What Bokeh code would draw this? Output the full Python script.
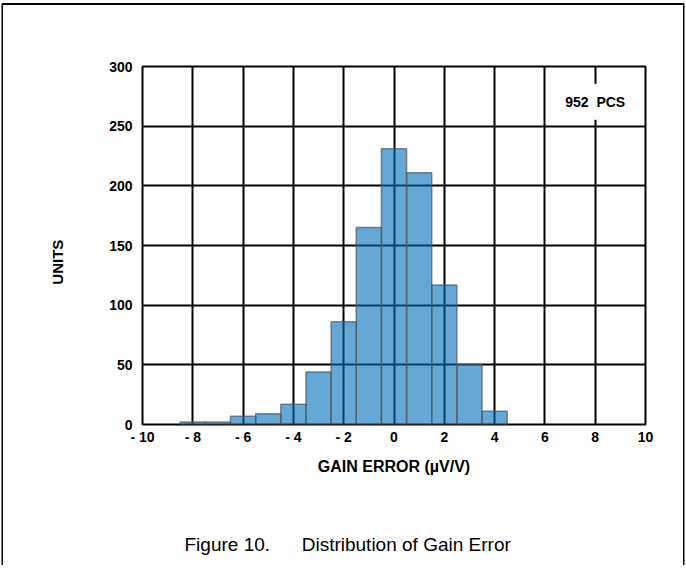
import numpy as np
from bokeh.plotting import figure
from bokeh.models import Range1d, FixedTicker, Label, Title
from bokeh.embed import file_html
from bokeh.resources import INLINE

# ---- data ----
bin_centers = [-8, -7, -6, -5, -4, -3, -2, -1, 0, 1, 2, 3, 4]
counts = [2, 2, 7, 9, 17, 44, 86, 165, 231, 211, 117, 50, 11]
bin_width = 1.0
x_ticks = [-10, -8, -6, -4, -2, 0, 2, 4, 6, 8, 10]
x_tick_labels = ["- 10", "- 8", "- 6", "- 4", "- 2", "0", "2", "4", "6", "8", "10"]
y_ticks = [0, 50, 100, 150, 200, 250, 300]
NB = "\u00a0"
n_pcs_text = "952" + NB * 2 + "PCS"
x_title = "GAIN ERROR (µV/V)"
y_title = "UNITS"
caption = "Figure 10." + NB * 6 + "Distribution of Gain Error"

BOLD_FONT = "Liberation Sans, Arial"
REG_FONT = "Liberation Sans, Arial"

p = figure(width=680, height=562, output_backend="svg", toolbar_location=None,
           x_range=Range1d(-10, 10), y_range=Range1d(0, 300),
           min_border_left=139, min_border_right=38, min_border_top=61, min_border_bottom=143)
# page frame: lines on the left, top and right only
p.styles = {"margin-left": "3px", "margin-top": "5px",
            "box-shadow": "-1.5px -2px 0px 0px black, 1.5px -2px 0px 0px black"}

p.background_fill_color = "white"
p.border_fill_color = "white"
p.outline_line_color = "black"
p.outline_line_width = 2

left = [c - bin_width / 2 for c in bin_centers]
right = [c + bin_width / 2 for c in bin_centers]
p.quad(left=left, right=right, bottom=0, top=counts,
       fill_color="#006EB9", fill_alpha=0.6,
       line_color="#555555", line_alpha=0.7, line_width=1.5)

# grid
p.xgrid.ticker = FixedTicker(ticks=x_ticks)
p.ygrid.ticker = FixedTicker(ticks=y_ticks)
for g in (p.xgrid, p.ygrid):
    g.grid_line_color = "black"
    g.grid_line_width = 2
    g.grid_line_alpha = 1.0

# axes
p.xaxis.ticker = FixedTicker(ticks=x_ticks)
p.xaxis.major_label_overrides = {t: l for t, l in zip(x_ticks, x_tick_labels)}
p.yaxis.ticker = FixedTicker(ticks=y_ticks)
for ax in (p.xaxis, p.yaxis):
    ax.axis_line_color = None
    ax.major_tick_line_color = None
    ax.minor_tick_line_color = None
    ax.major_tick_out = 0
    ax.major_tick_in = 0
    ax.major_label_text_font = BOLD_FONT
    ax.major_label_text_font_style = "bold"
    ax.major_label_text_font_size = "14px"
    ax.major_label_text_color = "black"
p.yaxis.major_label_standoff = 10
p.xaxis.major_label_standoff = 4

p.xaxis.axis_label = x_title
p.xaxis.axis_label_text_font = BOLD_FONT
p.xaxis.axis_label_text_font_style = "bold"
p.xaxis.axis_label_text_font_size = "16px"
p.xaxis.axis_label_text_color = "black"
p.xaxis.axis_label_standoff = 10

# y title, shifted below the frame centre as in the reference
p.yaxis.axis_label = y_title + NB * 8
p.yaxis.axis_label_text_font = BOLD_FONT
p.yaxis.axis_label_text_font_style = "bold"
p.yaxis.axis_label_text_font_size = "15px"
p.yaxis.axis_label_text_color = "black"
p.yaxis.axis_label_standoff = 40

# pieces label with white box
p.add_layout(Label(x=8, y=270.5, text=n_pcs_text,
                   text_align="center", text_baseline="middle",
                   text_font=BOLD_FONT, text_font_style="bold",
                   text_font_size="14px", text_color="black",
                   background_fill_color="white", padding=10))

# spacer between axis title and figure caption
p.add_layout(Title(text=NB, standoff=51, text_font_size="1px"), "below")
# figure caption
p.add_layout(Title(text=caption, align="left", offset=42, standoff=0,
                   text_font=REG_FONT, text_font_style="normal",
                   text_font_size="19px", text_color="black"), "below")

open("out.html", "w").write(file_html(p, INLINE))
